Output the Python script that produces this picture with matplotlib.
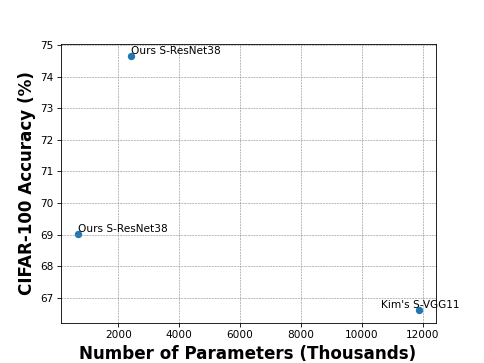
import matplotlib
matplotlib.use("Agg")
import matplotlib.pyplot as plt

# Data
names = ["Ours S-ResNet38", "Ours S-ResNet38", "Kim's S-VGG11"]
params = [2420, 660, 11870]      # thousands
accuracy = [74.64, 69.02, 66.61]  # CIFAR-100 top-1 (%)
label_ha = ["left", "left", "center"]

fig, ax = plt.subplots(figsize=(6.4, 4.8), dpi=75.625)

ax.scatter(params, accuracy)
for name, x, y, ha in zip(names, params, accuracy, label_ha):
    ax.annotate(name, (x, y), xytext=(2 if ha == "center" else 0, 0),
                textcoords="offset points", ha=ha, va="bottom")

ax.set_xlabel("Number of Parameters (Thousands)", fontsize=16, fontweight="bold")
ax.set_ylabel("CIFAR-100 Accuracy (%)", fontsize=16, fontweight="bold")
ax.grid(True, linestyle="--", linewidth=0.5, color="gray")

plt.savefig("out.png")
plt.close()
